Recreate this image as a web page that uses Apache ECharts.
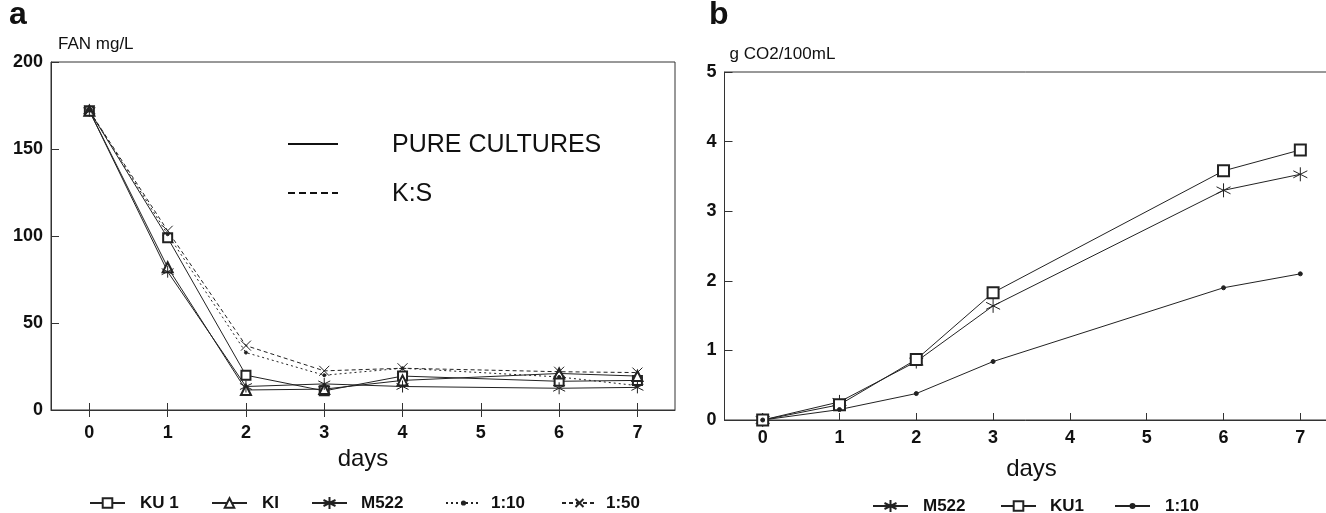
<!DOCTYPE html>
<html>
<head>
<meta charset="utf-8">
<script src="https://cdn.jsdelivr.net/npm/echarts@6/dist/echarts.min.js"></script>
<style>
html,body{margin:0;padding:0;background:#fff;}
#chart{width:1326px;height:513px;}
</style>
</head>
<body>
<div id="chart"></div>
<script>
// ---- data ----
const xTickDays = [0, 1, 2, 3, 4, 5, 6, 7];

// panel a : FAN mg/L
const daysA = [0, 1, 2, 3, 4, 6, 7];
const fanKU1 = [172, 99, 20, 11, 19.5, 16.5, 17];
const fanKI = [172, 82, 11.5, 12, 17, 21, 19.5];
const fanM522 = [172, 79.5, 13.5, 15, 13.5, 12.5, 13];
const fan110 = [172, 101, 33, 20, 24, 19, 14];
const fan150 = [172, 103, 37, 22.5, 24, 22, 21.5];

// panel b : g CO2/100mL
const daysB = [0, 1, 2, 3, 6, 7];
const co2M522 = [0, 0.26, 0.84, 1.64, 3.30, 3.53];
const co2KU1 = [0, 0.22, 0.87, 1.83, 3.58, 3.88];
const co2110 = [0, 0.15, 0.38, 0.84, 1.90, 2.10];

const legendA = ['KU 1', 'KI', 'M522', '1:10', '1:50'];
const legendB = ['M522 ', 'KU1', '1:10 '];

// ---- helpers ----
const zip = (xs, ys) => xs.map((x, i) => [x, ys[i]]);
const INK = '#222';
const FONT = '"Liberation Sans", Arial, sans-serif';
const ASTER = 'path://M0,-1L0,1M-0.866,-0.5L0.866,0.5M-0.866,0.5L0.866,-0.5';
const CROSS = 'path://M-1,-1L1,1M-1,1L1,-1';

function mkSeries(name, xi, yi, data, symbol, size, dash) {
  return {
    name: name, type: 'line', xAxisIndex: xi, yAxisIndex: yi,
    data: data, symbol: symbol, symbolSize: size,
    showSymbol: true, animation: false,
    lineStyle: { color: INK, width: 1, type: dash || 'solid' },
    itemStyle: { color: INK, borderColor: INK, borderWidth: 1 },
    emphasis: { disabled: true }
  };
}

function mkLegend(name, left, centerY, itemHeight, textGap) {
  return {
    data: [name], left: left, top: centerY - 8.5,
    itemWidth: 35, itemHeight: itemHeight, selectedMode: false,
    padding: 0,
    textStyle: { fontFamily: FONT, fontSize: 17, fontWeight: 'bold', color: '#111',
                 padding: [0, 0, 0, textGap - 5] }
  };
}

const axisLabelStyle = { color: '#111', fontFamily: FONT, fontSize: 18, fontWeight: 'bold' };
const lineCol = '#333';

const option = {
  backgroundColor: '#fff',
  animation: false,
  title: [
    { text: 'a', left: 9, top: -1, padding: 0, textStyle: { fontFamily: FONT, fontSize: 32, fontWeight: 'bold', color: '#111' } },
    { text: 'b', left: 709, top: -1, padding: 0, textStyle: { fontFamily: FONT, fontSize: 32, fontWeight: 'bold', color: '#111' } }
  ],
  grid: [
    { left: 51, top: 62, width: 624, height: 348, show: true, borderColor: lineCol, borderWidth: 1,
      backgroundColor: 'transparent', outerBoundsMode: 'none', containLabel: false },
    { left: 724.5, top: 72, width: 614, height: 348, show: true, borderColor: lineCol, borderWidth: 1,
      backgroundColor: 'transparent', outerBoundsMode: 'none', containLabel: false }
  ],
  xAxis: [
    { gridIndex: 0, type: 'value', min: -0.49, max: 7.48, position: 'bottom',
      name: 'days', nameLocation: 'middle', nameGap: 34,
      nameTextStyle: { fontFamily: FONT, fontSize: 24, color: '#111' },
      axisLine: { show: true, onZero: false, lineStyle: { color: lineCol, width: 1 } },
      axisTick: { show: true, inside: false, length: 7, customValues: xTickDays, lineStyle: { color: lineCol } },
      axisLabel: Object.assign({ margin: 14, customValues: xTickDays }, axisLabelStyle),
      splitLine: { show: false } },
    { gridIndex: 0, type: 'value', min: -0.49, max: 7.48, position: 'bottom',
      axisLine: { show: false, onZero: false },
      axisTick: { show: true, inside: true, length: 7, customValues: xTickDays, lineStyle: { color: lineCol } },
      axisLabel: { show: false }, splitLine: { show: false } },
    { gridIndex: 1, type: 'value', min: -0.497, max: 7.497, position: 'bottom',
      name: 'days', nameLocation: 'middle', nameGap: 37,
      nameTextStyle: { fontFamily: FONT, fontSize: 24, color: '#111' },
      axisLine: { show: true, onZero: false, lineStyle: { color: lineCol, width: 1 } },
      axisTick: { show: true, inside: true, length: 7, customValues: xTickDays, lineStyle: { color: lineCol } },
      axisLabel: Object.assign({ margin: 9, customValues: xTickDays }, axisLabelStyle),
      splitLine: { show: false } }
  ],
  yAxis: [
    { gridIndex: 0, type: 'value', min: 0, max: 200, interval: 50,
      name: 'FAN mg/L', nameLocation: 'end', nameGap: 9,
      nameTextStyle: { fontFamily: FONT, fontSize: 17, color: '#111', align: 'left', padding: [0, 0, 0, 7] },
      axisLine: { show: true, onZero: false, lineStyle: { color: lineCol, width: 1 } },
      axisTick: { show: true, inside: true, length: 8, lineStyle: { color: lineCol } },
      axisLabel: Object.assign({ margin: 8 }, axisLabelStyle),
      splitLine: { show: false } },
    { gridIndex: 1, type: 'value', min: 0, max: 5, interval: 1,
      name: 'g CO2/100mL', nameLocation: 'end', nameGap: 9,
      nameTextStyle: { fontFamily: FONT, fontSize: 17, color: '#111', align: 'left', padding: [0, 0, 0, 5] },
      axisLine: { show: true, onZero: false, lineStyle: { color: lineCol, width: 1 } },
      axisTick: { show: true, inside: true, length: 8, lineStyle: { color: lineCol } },
      axisLabel: Object.assign({ margin: 8 }, axisLabelStyle),
      splitLine: { show: false } }
  ],
  legend: [
    mkLegend(legendA[0], 89, 503, 12, 15),
    mkLegend(legendA[1], 211, 503, 12, 15),
    mkLegend(legendA[2], 311, 503, 15, 14),
    mkLegend(legendA[3], 445, 503, 4, 10),
    mkLegend(legendA[4], 561, 503, 10, 9),
    mkLegend(legendB[0], 872, 506, 15, 15),
    mkLegend(legendB[1], 1000, 506, 12, 14),
    mkLegend(legendB[2], 1114, 506, 5, 15)
  ],
  graphic: [
    { type: 'line', shape: { x1: 288, y1: 144, x2: 338, y2: 144 }, style: { stroke: '#111', lineWidth: 2 } },
    { type: 'line', shape: { x1: 288, y1: 193, x2: 338, y2: 193 }, style: { stroke: '#111', lineWidth: 2, lineDash: [7, 4] } },
    { type: 'text', x: 392, y: 145, style: { text: 'PURE CULTURES', fontFamily: FONT, fontSize: 25, fill: '#111', verticalAlign: 'middle' } },
    { type: 'text', x: 392, y: 194, style: { text: 'K:S', fontFamily: FONT, fontSize: 25, fill: '#111', verticalAlign: 'middle' } }
  ],
  series: [
    mkSeries('KU 1', 0, 0, zip(daysA, fanKU1), 'emptyRect', 9),
    mkSeries('KI', 0, 0, zip(daysA, fanKI), 'emptyTriangle', 10),
    mkSeries('M522', 0, 0, zip(daysA, fanM522), ASTER, 12),
    mkSeries('1:10', 0, 0, zip(daysA, fan110), 'circle', 3, [2, 3]),
    mkSeries('1:50', 0, 0, zip(daysA, fan150), CROSS, 10, [4, 3]),
    mkSeries('M522 ', 2, 1, zip(daysB, co2M522), ASTER, 14),
    mkSeries('KU1', 2, 1, zip(daysB, co2KU1), 'emptyRect', 11),
    mkSeries('1:10 ', 2, 1, zip(daysB, co2110), 'circle', 4)
  ]
};

const chart = echarts.init(document.getElementById('chart'), null, { renderer: 'canvas' });
chart.setOption(option);
</script>
</body>
</html>
